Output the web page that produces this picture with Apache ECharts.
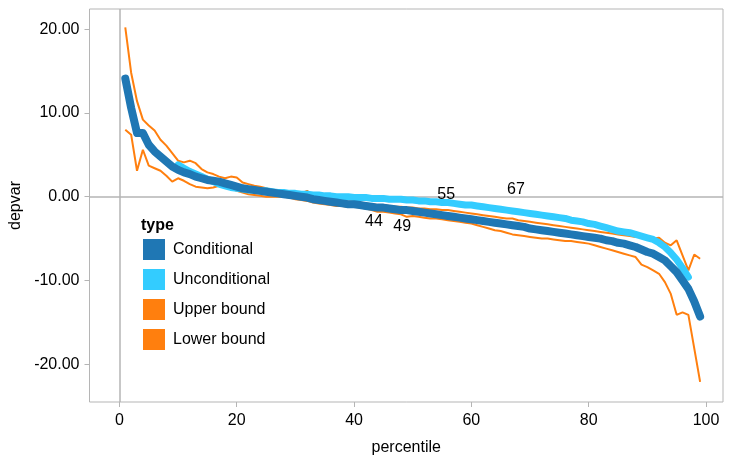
<!DOCTYPE html>
<html>
<head>
<meta charset="utf-8">
<script src="https://cdn.jsdelivr.net/npm/echarts@6/dist/echarts.min.js"></script>
<style>
  html, body { margin: 0; padding: 0; background: #fff; }
  #main { width: 732px; height: 455px; }
</style>
</head>
<body>
<div id="main"></div>
<script>
// percentile 1..99
var percentiles = [
  1, 2, 3, 4, 5, 6, 7, 8, 9, 10,
  11, 12, 13, 14, 15, 16, 17, 18, 19, 20,
  21, 22, 23, 24, 25, 26, 27, 28, 29, 30,
  31, 32, 33, 34, 35, 36, 37, 38, 39, 40,
  41, 42, 43, 44, 45, 46, 47, 48, 49, 50,
  51, 52, 53, 54, 55, 56, 57, 58, 59, 60,
  61, 62, 63, 64, 65, 66, 67, 68, 69, 70,
  71, 72, 73, 74, 75, 76, 77, 78, 79, 80,
  81, 82, 83, 84, 85, 86, 87, 88, 89, 90,
  91, 92, 93, 94, 95, 96, 97, 98, 99
];

var conditional = [
  14.1, 10.6, 7.6, 7.6, 6.2, 5.4, 4.8, 4.2, 3.6, 3.2,
  2.9, 2.7, 2.4, 2.2, 2.0, 1.9, 1.8, 1.6, 1.4, 1.2,
  1.0, 0.9, 0.8, 0.7, 0.6, 0.5, 0.4, 0.3, 0.2, 0.1,
  0.0, -0.1, -0.3, -0.4, -0.5, -0.6, -0.7, -0.8, -0.9, -0.9,
  -1.0, -1.1, -1.2, -1.3, -1.3, -1.4, -1.5, -1.6, -1.6, -1.7,
  -1.8, -1.9, -2.0, -2.1, -2.2, -2.3, -2.4, -2.5, -2.6, -2.7,
  -2.8, -2.9, -3.0, -3.1, -3.2, -3.3, -3.4, -3.5, -3.6, -3.8,
  -3.9, -4.0, -4.1, -4.2, -4.3, -4.4, -4.5, -4.6, -4.7, -4.8,
  -4.9, -5.0, -5.2, -5.3, -5.5, -5.6, -5.8, -6.0, -6.3, -6.6,
  -6.8, -7.2, -7.6, -8.3, -9.0, -10.0, -11.0, -12.5, -14.3
];

var unconditional = [
  null, null, null, null, null, null, null, null, null, 3.8,
  3.4, 3.0, 2.7, 2.4, 2.1, 1.8, 1.5, 1.3, 1.1, 1.0,
  0.9, 0.8, 0.8, 0.7, 0.7, 0.6, 0.5, 0.5, 0.4, 0.4,
  0.3, 0.3, 0.2, 0.2, 0.1, 0.1, 0.0, 0.0, 0.0, -0.1,
  -0.1, -0.1, -0.2, -0.2, -0.2, -0.3, -0.3, -0.3, -0.4, -0.4,
  -0.5, -0.5, -0.6, -0.6, -0.7, -0.7, -0.8, -0.9, -1.0, -1.0,
  -1.1, -1.2, -1.3, -1.4, -1.5, -1.6, -1.7, -1.8, -1.9, -2.0,
  -2.1, -2.2, -2.3, -2.4, -2.5, -2.6, -2.8, -2.9, -3.0, -3.2,
  -3.3, -3.5, -3.7, -3.9, -4.1, -4.2, -4.3, -4.5, -4.7, -4.9,
  -5.1, -5.5, -6.0, -6.7, -7.5, -8.5, -9.6, null, null
];

var upperBound = [
  20.2, 14.8, 11.4, 9.2, 8.5, 7.9, 6.8, 6.1, 5.2, 4.3,
  4.1, 4.3, 4.0, 3.3, 2.9, 2.7, 2.4, 2.2, 2.4, 2.3,
  1.7, 1.5, 1.3, 1.2, 1.0, 0.8, 0.6, 0.5, 0.4, 0.3,
  0.4, 0.7, 0.1, 0.0, -0.2, -0.3, -0.4, -0.5, -0.6, -0.6,
  -0.7, -0.8, -0.9, -1.0, -1.0, -1.1, -1.2, -1.2, -1.3, -1.3,
  -1.4, -1.4, -1.5, -1.5, -1.6, -1.6, -1.7, -1.8, -1.9, -2.0,
  -2.1, -2.2, -2.3, -2.4, -2.5, -2.6, -2.6, -2.8, -2.9, -3.0,
  -3.1, -3.2, -3.3, -3.4, -3.5, -3.6, -3.7, -3.8, -3.9, -4.0,
  -4.1, -4.2, -4.3, -4.4, -4.5, -4.6, -4.7, -4.8, -4.8, -4.9,
  -5.0, -4.9, -5.5, -5.8, -5.2, -7.0, -8.8, -6.9, -7.4
];

var lowerBound = [
  8.0, 7.4, 3.1, 5.6, 3.7, 3.4, 3.1, 2.5, 1.8, 2.2,
  1.9, 1.5, 1.2, 1.1, 1.0, 1.1, 1.3, 1.4, 1.0, 0.7,
  0.5, 0.3, 0.2, 0.1, 0.0, 0.0, 0.0, 0.0, -0.1, -0.3,
  -0.4, -0.5, -0.7, -0.8, -0.9, -1.0, -1.1, -1.1, -1.2, -1.2,
  -1.3, -1.4, -1.6, -1.8, -1.8, -1.9, -2.0, -2.1, -2.4, -2.3,
  -2.4, -2.5, -2.6, -2.6, -2.7, -2.8, -2.9, -3.0, -3.1, -3.2,
  -3.4, -3.6, -3.8, -4.0, -4.1, -4.3, -4.5, -4.6, -4.7, -4.8,
  -4.9, -5.0, -5.0, -5.1, -5.2, -5.3, -5.3, -5.4, -5.5, -5.6,
  -5.8, -6.0, -6.2, -6.4, -6.6, -6.8, -7.0, -7.2, -8.1, -8.4,
  -8.8, -9.2, -10.2, -11.6, -14.1, -13.8, -14.1, -18.1, -22.1
];

// text annotations
var annoX = [43.4, 48.2, 55.7, 67.6];
var annoY = [-3.0, -3.6, 0.2, 0.8];
var annoText = ['44', '49', '55', '67'];

var xTicks = [0, 20, 40, 60, 80, 100];
var yTicks = [-20, -10, 0, 10, 20];

var font = 'Liberation Sans, Arial, Helvetica, sans-serif';
var gray = '#b5b5b5';

function pairs(vals) {
  return percentiles.map(function (p, i) { return [p, vals[i]]; });
}

var myChart = echarts.init(document.getElementById('main'));

var option = {
  animation: false,
  textStyle: { fontFamily: font },
  grid: {
    left: 89.5, right: 9, top: 9, bottom: 53,
    outerBoundsMode: 'none', containLabel: false,
    show: true, borderColor: gray, borderWidth: 1
  },
  legend: {
    data: ['Conditional', 'Unconditional', 'Upper bound', 'Lower bound'],
    orient: 'vertical',
    left: 143, top: 239, padding: 0,
    itemWidth: 22, itemHeight: 21, itemGap: 9,
    icon: 'rect',
    textStyle: { fontSize: 16, color: '#000', fontFamily: font, padding: [0, 0, 0, 3] }
  },
  graphic: [{
    type: 'text', left: 141, top: 218,
    style: { text: 'type', font: 'bold 16px ' + font, fill: '#000' }
  }],
  xAxis: {
    type: 'value', min: -5.1, max: 102.9,
    name: 'percentile', nameLocation: 'middle', nameGap: 38,
    nameTextStyle: { fontSize: 16, color: '#000' },
    axisLine: { show: false, onZero: false },
    axisTick: { show: true, length: 5, customValues: xTicks, lineStyle: { color: gray } },
    axisLabel: { customValues: xTicks, fontSize: 16, color: '#000', margin: 11 },
    splitLine: { show: false }
  },
  yAxis: {
    type: 'value', min: -24.5, max: 22.4,
    name: 'depvar', nameLocation: 'middle', nameGap: 59,
    nameTextStyle: { fontSize: 16, color: '#000' },
    axisLine: { show: false, onZero: false },
    axisTick: { show: true, length: 5, customValues: yTicks, lineStyle: { color: gray } },
    axisLabel: {
      customValues: yTicks, fontSize: 16, color: '#000', margin: 10,
      formatter: function (v) { return v.toFixed(2); }
    },
    splitLine: { show: false }
  },
  series: [
    {
      name: 'Conditional', type: 'line', z: 5,
      data: pairs(conditional), showSymbol: false, symbol: 'none',
      itemStyle: { color: '#1f77b4' },
      lineStyle: { color: '#1f77b4', width: 8, cap: 'round', join: 'round' }
    },
    {
      name: 'Unconditional', type: 'line', z: 4,
      data: pairs(unconditional), showSymbol: false, symbol: 'none',
      itemStyle: { color: '#33ccff' },
      lineStyle: { color: '#33ccff', width: 7, cap: 'round', join: 'round' }
    },
    {
      name: 'Upper bound', type: 'line', z: 3,
      data: pairs(upperBound), showSymbol: false, symbol: 'none',
      itemStyle: { color: '#ff7f0e' },
      lineStyle: { color: '#ff7f0e', width: 2 }
    },
    {
      name: 'Lower bound', type: 'line', z: 3,
      data: pairs(lowerBound), showSymbol: false, symbol: 'none',
      itemStyle: { color: '#ff7f0e' },
      lineStyle: { color: '#ff7f0e', width: 2 },
      markLine: {
        silent: true, symbol: 'none', z: 1,
        label: { show: false },
        lineStyle: { color: gray, type: 'solid', width: 1.5 },
        data: [{ xAxis: 0 }, { yAxis: 0 }]
      }
    },
    {
      name: 'labels', type: 'scatter', z: 6,
      data: annoX.map(function (x, i) { return [x, annoY[i], annoText[i]]; }),
      symbolSize: 0, itemStyle: { color: 'transparent' },
      label: {
        show: true, position: 'inside', fontSize: 16, color: '#000',
        textBorderWidth: 0, opacity: 1,
        formatter: function (p) { return p.value[2]; }
      }
    }
  ]
};

myChart.setOption(option);
</script>
</body>
</html>
